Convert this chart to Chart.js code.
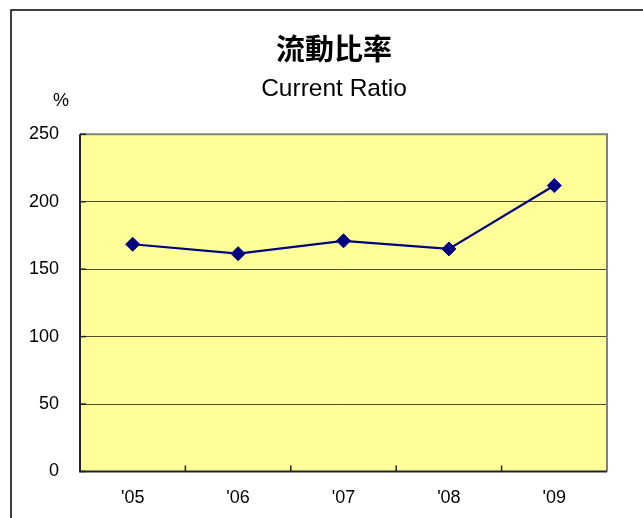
<!DOCTYPE html>
<html>
<head>
<meta charset="utf-8">
<script src="https://cdn.jsdelivr.net/npm/chart.js@4.4.1/dist/chart.umd.min.js"></script>
<style>
  html, body { margin: 0; padding: 0; background: #ffffff; }
  canvas { display: block; }
</style>
</head>
<body>
<canvas id="c" width="643" height="518"></canvas>
<script>
const titleText = '流動比率';
const subtitleText = 'Current Ratio';
const unitLabel = '%';
const categories = ["'05", "'06", "'07", "'08", "'09"];
const currentRatio = [168.5, 161.5, 171, 165, 212];
const yMin = 0;
const yMax = 250;
const yStep = 50;

const frameAndBackground = {
  id: 'frameAndBackground',
  beforeDraw(chart) {
    const { ctx, chartArea: a } = chart;
    ctx.save();
    ctx.fillStyle = '#ffffff';
    ctx.fillRect(0, 0, chart.width, chart.height);
    ctx.fillStyle = '#FFFF99';
    ctx.fillRect(a.left, a.top, a.right - a.left, a.bottom - a.top);
    ctx.strokeStyle = '#000000';
    ctx.lineWidth = 1.5;
    ctx.beginPath();
    ctx.moveTo(11, chart.height + 2);
    ctx.lineTo(11, 10);
    ctx.lineTo(chart.width + 2, 10);
    ctx.stroke();
    ctx.restore();
  },
  afterDraw(chart) {
    const { ctx, chartArea: a, scales } = chart;
    ctx.save();
    ctx.strokeStyle = '#808080';
    ctx.lineWidth = 2;
    ctx.beginPath();
    ctx.moveTo(a.left, a.top);
    ctx.lineTo(a.right, a.top);
    ctx.lineTo(a.right, a.bottom);
    ctx.stroke();
    ctx.strokeStyle = '#222222';
    ctx.beginPath();
    ctx.moveTo(a.left, a.top);
    ctx.lineTo(a.left, a.bottom);
    ctx.lineTo(a.right, a.bottom);
    ctx.stroke();
    ctx.lineWidth = 1.5;
    const y = scales.y;
    y.ticks.forEach(t => {
      const py = y.getPixelForValue(t.value);
      ctx.beginPath();
      ctx.moveTo(a.left, py);
      ctx.lineTo(a.left + 6, py);
      ctx.stroke();
    });
    const x = scales.x;
    for (let i = 1; i < categories.length; i++) {
      const px = (x.getPixelForValue(i - 1) + x.getPixelForValue(i)) / 2;
      ctx.beginPath();
      ctx.moveTo(px, a.bottom);
      ctx.lineTo(px, a.bottom - 6);
      ctx.stroke();
    }
    ctx.fillStyle = '#000000';
    ctx.font = '18px "Liberation Sans", Arial, sans-serif';
    ctx.textAlign = 'center';
    ctx.textBaseline = 'middle';
    ctx.fillText(unitLabel, 61, 101);
    ctx.restore();
  }
};

new Chart(document.getElementById('c'), {
  type: 'line',
  data: {
    labels: categories,
    datasets: [{
      label: subtitleText,
      data: currentRatio,
      borderColor: '#000080',
      backgroundColor: '#000080',
      borderWidth: 2.2,
      pointStyle: 'rectRot',
      pointRadius: 7,
      pointHoverRadius: 7,
      pointBorderWidth: 1,
      pointBackgroundColor: '#000080',
      pointBorderColor: '#000080',
      tension: 0,
      fill: false,
      clip: false,
      yAxisID: 'y'
    }]
  },
  options: {
    responsive: false,
    animation: false,
    devicePixelRatio: 1,
    layout: { padding: { top: 0, left: 25, right: 0, bottom: 0 } },
    plugins: {
      legend: { display: false },
      tooltip: { enabled: false },
      title: {
        display: true,
        text: titleText,
        color: '#000000',
        font: { family: '"Noto Sans CJK TC", "Noto Sans CJK JP", sans-serif', size: 29, weight: 'bold', lineHeight: 1.2 },
        padding: { top: 31.6, bottom: 0 }
      },
      subtitle: {
        display: true,
        text: subtitleText,
        color: '#000000',
        font: { family: '"Liberation Sans", Arial, sans-serif', size: 24.5, weight: 'normal', lineHeight: 1.2 },
        padding: { top: 8, bottom: 30.5 }
      }
    },
    scales: {
      x: {
        offset: true,
        grid: { display: false, drawTicks: false, tickLength: 0 },
        border: { display: false },
        ticks: {
          color: '#000000',
          padding: 16,
          maxRotation: 0,
          font: { family: '"Liberation Sans", Arial, sans-serif', size: 18 }
        },
        afterFit(s) { s.height = 46.5; }
      },
      y: {
        min: yMin,
        max: yMax,
        grid: { color: 'rgba(0,0,0,0.7)', lineWidth: 1, drawTicks: false, tickLength: 0 },
        border: { display: false },
        ticks: {
          stepSize: yStep,
          color: '#000000',
          padding: 21,
          font: { family: '"Liberation Sans", Arial, sans-serif', size: 18 }
        },
        afterFit(s) { s.width = 55; }
      },
      rightSpace: {
        position: 'right',
        min: yMin,
        max: yMax,
        grid: { display: false, drawTicks: false },
        border: { display: false },
        ticks: { display: false },
        afterFit(s) { s.width = 36; }
      }
    }
  },
  plugins: [frameAndBackground]
});
</script>
</body>
</html>
